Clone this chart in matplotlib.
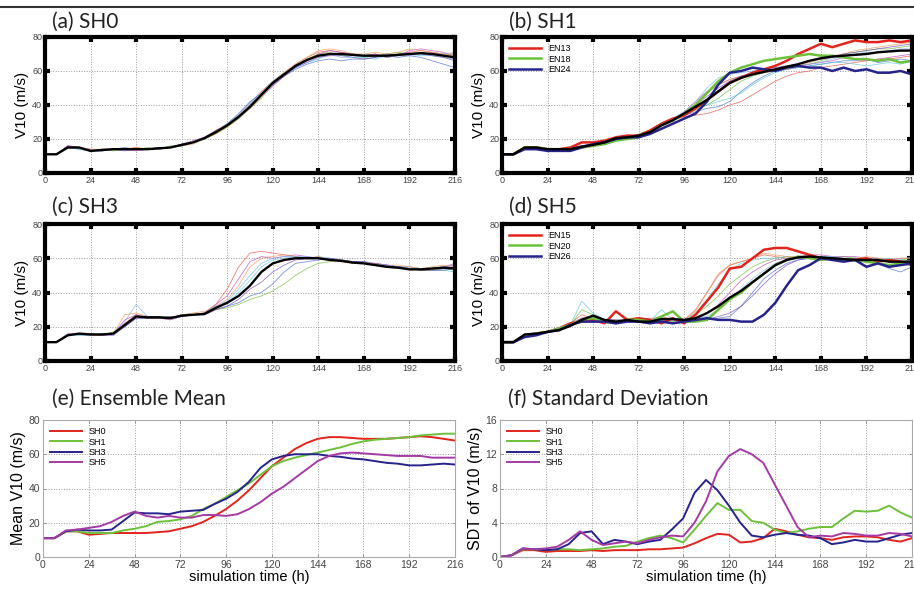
import numpy as np
import matplotlib
matplotlib.use("Agg")
from matplotlib import pyplot as plt
from matplotlib.lines import Line2D

# simulation time, every 6 h
hours = list(range(0, 217, 6))

# ensemble means (black lines in a-d, panel e)
mean_sh0 = [11, 11, 15, 15, 13, 13.5, 14, 14, 14, 14, 14.5, 15, 16.5, 18, 20.5, 24, 28, 33, 39, 46, 53, 58, 63,
            66.5, 69, 70, 70, 69.5, 69, 69, 69, 69.5, 70, 70.5, 70, 69, 68]
mean_sh1 = [11, 11, 15, 15, 14, 14, 14, 15.5, 16.5, 18, 20.5, 21, 22, 24, 28, 31, 35, 39, 43, 48, 53, 56, 58,
            59.5, 61, 62.5, 64, 66, 67.5, 68.5, 69, 69.5, 70, 71, 71.5, 72, 72]
mean_sh3 = [11, 11, 15, 16, 15.5, 15.5, 16, 21, 26, 25.5, 25.5, 25, 26.5, 27, 27.5, 31, 34, 38, 44, 52, 57, 59, 60,
            60, 60, 59, 58.5, 57.5, 57, 56, 55, 54.5, 53.5, 53.5, 54, 54.5, 54]
mean_sh5 = [11, 11, 15.5, 16, 17, 18, 20.5, 24, 26.5, 24, 23, 24, 23, 23, 24.5, 24.5, 24, 25, 28, 32, 37, 41, 46,
            51, 56, 59, 60.5, 61, 60.5, 60, 59.5, 59, 59, 59, 58, 58, 58]

# ensemble standard deviation (panel f)
sdt_sh0 = [0, 0.2, 0.8, 0.8, 0.6, 0.7, 0.7, 0.7, 0.8, 0.7, 0.8, 0.8, 0.8, 0.9, 0.9, 1.0, 1.1, 1.6, 2.2, 2.7, 2.6,
           1.7, 1.8, 2.2, 3.3, 3.0, 2.6, 2.3, 2.2, 2.0, 2.3, 2.4, 2.4, 2.3, 2.0, 1.8, 2.2]
sdt_sh1 = [0, 0.2, 0.9, 0.9, 0.8, 0.9, 0.9, 0.8, 0.9, 1.0, 1.2, 1.3, 1.8, 2.2, 2.5, 2.2, 1.7, 3.2, 4.8, 6.3, 5.5,
           5.5, 4.2, 4.0, 3.2, 2.8, 3.0, 3.3, 3.5, 3.5, 4.5, 5.4, 5.3, 5.4, 6.0, 5.2, 4.6]
sdt_sh3 = [0, 0.2, 1.0, 0.9, 0.8, 0.9, 1.5, 2.8, 3.0, 1.5, 2.0, 1.8, 1.5, 1.8, 2.0, 3.2, 4.5, 7.5, 9.0, 7.8, 6.0,
           4.0, 2.5, 2.3, 2.6, 2.8, 2.6, 2.5, 2.2, 1.5, 1.7, 2.0, 1.8, 1.8, 2.2, 2.6, 2.8]
sdt_sh5 = [0, 0.2, 1.0, 0.9, 1.0, 1.2, 2.0, 3.0, 2.0, 1.4, 1.6, 1.8, 1.6, 2.0, 2.3, 2.5, 2.4, 4.0, 6.5, 10.0, 11.8,
           12.6, 12.0, 11.0, 8.5, 6.0, 3.5, 2.3, 2.5, 2.4, 2.8, 2.7, 2.5, 2.5, 2.8, 2.7, 2.4]

# highlighted members
en13 = [11, 11, 15, 15, 14, 14, 15, 18, 18, 19, 21, 22, 22, 25, 29, 32, 34, 38, 43, 48, 53, 56, 59, 61, 63, 66, 70,
        73, 76, 74, 76, 78, 77, 77, 78, 77, 78]
en18 = [11, 11, 15, 15, 14, 14, 14, 15, 16, 17, 19, 20, 21, 24, 28, 31, 35, 40, 47, 54, 59, 62, 64, 66, 67, 68, 69,
        70, 69, 69, 68, 67, 67, 66, 67, 65, 66]
en24 = [11, 11, 14, 14, 13, 13, 13, 15, 17, 18, 20, 21, 21, 23, 26, 29, 32, 35, 42, 52, 59, 60, 62, 61, 60, 62, 63,
        62, 62, 60, 62, 60, 61, 59, 59, 60, 58]
en15 = [11, 11, 15, 16, 17, 19, 22, 23, 24, 22, 29, 24, 25, 24, 22, 25, 22, 27, 35, 43, 54, 55, 60, 65, 66, 66, 64,
        62, 60, 60, 59, 59, 60, 58, 59, 58, 56]
en20 = [11, 11, 15, 16, 17, 19, 21, 24, 25, 23, 22, 24, 24, 23, 26, 29, 23, 23, 24, 30, 36, 40, 46, 51, 56, 59, 61,
        60, 59, 60, 59, 59, 58, 57, 56, 57, 57]
en26 = [11, 11, 14, 15, 17, 18, 21, 23, 23, 23, 22, 23, 23, 22, 23, 22, 23, 24, 25, 24, 24, 23, 23, 27, 34, 44, 53,
        56, 60, 59, 58, 59, 55, 57, 55, 56, 57]

# other members (thin lines)
members_sh0 = [
    [11, 11, 16, 15, 13, 14, 14, 14, 15, 14, 15, 15, 17, 18, 21, 25, 29, 34, 41, 48, 54, 59, 64, 68, 71, 72, 71, 70, 69, 70, 68, 70, 71, 72, 71, 70, 70],
    [11, 11, 15, 14, 13, 13, 14, 15, 14, 14, 14, 15, 16, 18, 20, 24, 29, 35, 42, 47, 52, 57, 61, 64, 66, 67, 66, 67, 67, 68, 69, 68, 69, 68, 66, 64, 62],
    [11, 11, 15, 15, 13, 14, 13, 14, 14, 15, 14, 16, 16, 18, 20, 23, 27, 32, 38, 44, 52, 58, 63, 67, 70, 71, 69, 70, 68, 69, 70, 71, 70, 71, 70, 69, 70],
    [11, 11, 16, 15, 14, 13, 14, 14, 13, 14, 15, 15, 17, 19, 21, 24, 28, 33, 38, 45, 51, 57, 62, 66, 70, 72, 71, 70, 69, 70, 68, 69, 72, 73, 72, 71, 68],
    [11, 11, 15, 14, 13, 14, 14, 14, 14, 14, 15, 15, 16, 18, 20, 24, 29, 34, 41, 47, 54, 59, 62, 65, 67, 70, 70, 68, 68, 67, 69, 70, 70, 69, 69, 68, 67],
    [11, 11, 15, 15, 14, 14, 14, 14, 15, 14, 14, 15, 16, 17, 20, 23, 27, 32, 38, 45, 53, 59, 64, 68, 72, 73, 72, 70, 70, 71, 70, 71, 73, 72, 71, 70, 69],
    [11, 11, 16, 15, 13, 14, 14, 13, 14, 14, 15, 15, 17, 18, 21, 25, 28, 33, 39, 46, 52, 57, 62, 65, 68, 69, 69, 68, 67, 68, 70, 69, 70, 70, 69, 68, 66],
    [11, 11, 15, 15, 13, 13, 14, 14, 14, 14, 14, 15, 16, 18, 20, 24, 28, 32, 40, 47, 53, 58, 62, 66, 69, 70, 68, 68, 69, 69, 68, 69, 69, 70, 70, 70, 71],
]
members_sh1 = [
    [11, 11, 15, 15, 14, 14, 14, 16, 17, 18, 20, 21, 22, 25, 28, 31, 33, 34, 35, 37, 40, 42, 46, 50, 54, 57, 59, 60, 62, 63, 64, 65, 66, 67, 67, 68, 69],
    [11, 11, 15, 15, 14, 14, 14, 16, 17, 18, 20, 21, 22, 25, 28, 31, 34, 36, 38, 39, 42, 48, 53, 57, 60, 61, 62, 63, 64, 65, 66, 66, 67, 65, 66, 67, 66],
    [11, 11, 15, 15, 14, 14, 15, 16, 17, 18, 20, 21, 23, 25, 28, 31, 34, 37, 40, 44, 49, 54, 57, 59, 60, 61, 63, 64, 66, 68, 70, 71, 72, 73, 73, 74, 75],
    [11, 11, 15, 15, 14, 14, 15, 16, 17, 18, 20, 21, 22, 25, 28, 32, 36, 42, 48, 52, 55, 57, 58, 60, 61, 62, 63, 64, 65, 66, 68, 67, 66, 67, 68, 69, 70],
    [11, 11, 15, 15, 14, 14, 14, 15, 17, 18, 20, 21, 22, 25, 29, 32, 35, 38, 40, 42, 44, 47, 52, 56, 59, 61, 62, 63, 64, 65, 65, 64, 63, 64, 65, 64, 66],
    [11, 11, 15, 15, 14, 14, 14, 15, 17, 18, 20, 21, 22, 25, 28, 31, 35, 41, 47, 52, 55, 57, 58, 59, 60, 61, 63, 65, 67, 69, 70, 72, 73, 74, 75, 76, 77],
    [11, 11, 15, 15, 14, 14, 14, 16, 17, 18, 20, 21, 22, 25, 28, 31, 35, 40, 45, 50, 54, 57, 59, 61, 62, 63, 64, 66, 67, 68, 70, 71, 72, 73, 74, 75, 76],
    [11, 11, 15, 15, 14, 14, 15, 16, 17, 18, 20, 21, 22, 25, 28, 32, 36, 42, 50, 56, 58, 59, 60, 61, 62, 62, 63, 64, 65, 67, 69, 70, 71, 71, 72, 73, 73],
]
members_sh3 = [
    [11, 11, 15, 16, 15, 15, 16, 22, 27, 25, 25, 25, 26, 27, 28, 33, 42, 55, 63, 64, 63, 62, 61, 60, 60, 59, 58, 57, 57, 56, 55, 54, 54, 53, 53, 54, 55],
    [11, 11, 15, 16, 15, 15, 16, 20, 25, 25, 26, 25, 26, 27, 27, 30, 32, 34, 38, 40, 45, 52, 57, 58, 59, 60, 59, 58, 58, 56, 56, 55, 55, 54, 54, 55, 56],
    [11, 11, 15, 16, 16, 15, 17, 21, 26, 25, 26, 26, 26, 27, 27, 30, 31, 33, 36, 38, 41, 45, 50, 54, 57, 58, 59, 58, 57, 57, 55, 55, 54, 53, 53, 54, 53],
    [11, 11, 16, 16, 15, 15, 16, 24, 27, 25, 25, 24, 26, 27, 28, 33, 38, 48, 58, 61, 60, 61, 62, 61, 60, 59, 58, 58, 57, 57, 56, 55, 54, 54, 54, 55, 57],
    [11, 11, 15, 15, 15, 16, 16, 21, 26, 26, 25, 25, 27, 27, 28, 31, 34, 40, 47, 55, 59, 60, 61, 60, 61, 60, 59, 58, 57, 56, 55, 55, 54, 54, 53, 53, 52],
    [11, 11, 15, 16, 15, 15, 16, 27, 28, 26, 26, 25, 27, 28, 29, 32, 36, 44, 55, 60, 61, 62, 61, 60, 61, 59, 59, 58, 57, 57, 56, 56, 55, 54, 55, 56, 55],
    [11, 11, 15, 16, 16, 15, 15, 20, 25, 25, 25, 26, 26, 27, 27, 30, 32, 36, 42, 46, 52, 56, 59, 60, 60, 60, 59, 58, 58, 57, 56, 55, 54, 53, 53, 53, 54],
    [11, 11, 16, 15, 15, 16, 16, 23, 33, 26, 26, 25, 26, 27, 28, 32, 35, 42, 50, 57, 60, 61, 61, 61, 60, 59, 59, 58, 57, 56, 56, 55, 54, 54, 54, 53, 55],
]
members_sh5 = [
    [11, 11, 15, 16, 17, 19, 22, 27, 25, 23, 23, 24, 23, 24, 26, 24, 24, 30, 40, 50, 56, 58, 60, 62, 61, 60, 61, 60, 60, 59, 60, 60, 59, 59, 58, 58, 59],
    [11, 11, 15, 16, 17, 19, 21, 24, 26, 23, 23, 23, 24, 24, 24, 24, 23, 23, 24, 25, 26, 32, 40, 48, 53, 57, 59, 60, 61, 60, 59, 59, 58, 57, 54, 52, 55],
    [11, 11, 15, 16, 17, 19, 21, 30, 27, 24, 23, 24, 24, 23, 24, 23, 24, 27, 32, 38, 45, 50, 55, 58, 60, 61, 60, 61, 61, 60, 61, 60, 59, 59, 58, 59, 60],
    [11, 11, 15, 16, 17, 19, 22, 25, 26, 24, 24, 23, 24, 25, 25, 24, 24, 25, 28, 33, 40, 47, 52, 56, 59, 60, 61, 62, 62, 61, 61, 61, 60, 60, 59, 60, 60],
    [11, 11, 15, 16, 17, 19, 21, 35, 28, 24, 23, 24, 24, 23, 30, 24, 24, 28, 36, 45, 53, 57, 59, 60, 60, 61, 60, 60, 61, 61, 60, 60, 60, 60, 60, 59, 61],
    [11, 11, 15, 16, 17, 19, 21, 25, 25, 23, 24, 24, 25, 24, 25, 25, 24, 29, 40, 51, 56, 58, 60, 63, 62, 61, 61, 61, 60, 60, 59, 60, 61, 60, 59, 60, 60],
    [11, 11, 15, 16, 17, 19, 21, 25, 26, 24, 24, 23, 24, 24, 24, 24, 24, 24, 24, 26, 28, 32, 38, 45, 51, 56, 59, 60, 60, 60, 59, 60, 59, 59, 58, 58, 58],
    [11, 11, 15, 16, 17, 19, 21, 24, 25, 23, 24, 24, 25, 24, 24, 24, 24, 25, 26, 30, 36, 42, 48, 53, 57, 59, 60, 61, 61, 60, 60, 59, 59, 58, 59, 58, 59],
]

xticks = list(range(0, 217, 24))

RED = '#e3241d'
GREEN = '#6cc13b'
BLUE = '#27238c'
MAGENTA = '#a53aa6'
thin_colors = ['#e8544a', '#4a6fd6', '#6cc13b', '#c24bc2', '#5bc8d8', '#ee9a55', '#7a4cc4', '#7fb4ea']

plt.rcParams['font.family'] = ['Liberation Sans', 'DejaVu Sans']

fig = plt.figure(figsize=(9.14, 5.89), dpi=100)
W, H = 914., 589.


def axbox(l, t, r, b):
    return fig.add_axes([l / W, 1 - b / H, (r - l) / W, (b - t) / H])


def style(ax, ylim, yticks, heavy):
    ax.set_xlim(0, 216)
    ax.set_ylim(*ylim)
    ax.set_xticks(xticks)
    ax.set_yticks(yticks)
    ax.grid(True, linestyle=':', color='#9a9a9a', linewidth=0.7)
    if heavy:
        for s in ax.spines.values():
            s.set_linewidth(3)
            s.set_color('black')
        ax.tick_params(direction='in', top=True, right=True, length=3.5, width=3, color='black',
                       labelsize=6.5, labelcolor='#444', pad=2)
    else:
        for s in ax.spines.values():
            s.set_linewidth(0.8)
            s.set_color('#aaaaaa')
        ax.tick_params(direction='in', top=True, right=True, length=2.5, width=0.6, color='#888',
                       labelsize=7.5, labelcolor='#444', pad=2)


title_kw = dict(fontsize=15, family=['Lato', 'DejaVu Sans'], color='#222', va='baseline')

panels = [
    ("(a) SH0", (45, 37, 455, 173), (52, 28), mean_sh0, members_sh0, None),
    ("(b) SH1", (502, 37, 912, 173), (509, 28), mean_sh1, members_sh1,
     [("EN13", en13, RED), ("EN18", en18, GREEN), ("EN24", en24, BLUE)]),
    ("(c) SH3", (45, 224, 455, 361), (52, 213), mean_sh3, members_sh3, None),
    ("(d) SH5", (502, 224, 912, 361), (509, 213), mean_sh5, members_sh5,
     [("EN15", en15, RED), ("EN20", en20, GREEN), ("EN26", en26, BLUE)]),
]

for title, box, tpos, mean, members, highlight in panels:
    ax = axbox(*box)
    for i, m in enumerate(members):
        ax.plot(hours, m, color=thin_colors[i % len(thin_colors)], linewidth=0.6, alpha=0.75)
    handles = []
    if highlight:
        for name, vals, c in highlight:
            h, = ax.plot(hours, vals, color=c, linewidth=1.8, label=name)
            handles.append(h)
    ax.plot(hours, mean, color='black', linewidth=1.7)
    style(ax, (0, 80), [0, 20, 40, 60, 80], True)
    ax.set_ylabel("V10 (m/s)", fontsize=11, labelpad=2)
    if handles:
        ax.legend(handles=handles, loc='upper left', frameon=False, fontsize=6.5,
                  handlelength=3.5, labelspacing=0.15, borderaxespad=0.4)
    fig.text(tpos[0] / W, 1 - tpos[1] / H, title, **title_kw)

# (e) ensemble mean
ax = axbox(43, 420, 455, 557)
ax.plot(hours, mean_sh0, color=RED, linewidth=1.4, label="SH0")
ax.plot(hours, mean_sh1, color=GREEN, linewidth=1.4, label="SH1")
ax.plot(hours, mean_sh3, color=BLUE, linewidth=1.4, label="SH3")
ax.plot(hours, mean_sh5, color=MAGENTA, linewidth=1.4, label="SH5")
style(ax, (0, 80), [0, 20, 40, 60, 80], False)
ax.set_ylabel("Mean V10 (m/s)", fontsize=11.5, labelpad=2)
ax.set_xlabel("simulation time (h)", fontsize=10.5, labelpad=0)
ax.legend(loc='upper left', frameon=False, fontsize=6.5, handlelength=3.5, labelspacing=0.15,
          borderaxespad=0.4)
fig.text(52 / W, 1 - 405 / H, "(e) Ensemble Mean", **title_kw)

# (f) standard deviation
ax = axbox(500, 420, 912, 557)
ax.plot(hours, sdt_sh0, color=RED, linewidth=1.4, label="SH0")
ax.plot(hours, sdt_sh1, color=GREEN, linewidth=1.4, label="SH1")
ax.plot(hours, sdt_sh3, color=BLUE, linewidth=1.4, label="SH3")
ax.plot(hours, sdt_sh5, color=MAGENTA, linewidth=1.4, label="SH5")
style(ax, (0, 16), [0, 4, 8, 12, 16], False)
ax.set_ylabel("SDT of V10 (m/s)", fontsize=11.5, labelpad=2)
ax.set_xlabel("simulation time (h)", fontsize=10.5, labelpad=0)
ax.legend(loc='upper left', frameon=False, fontsize=6.5, handlelength=3.5, labelspacing=0.15,
          borderaxespad=0.4)
fig.text(508 / W, 1 - 405 / H, "(f) Standard Deviation", **title_kw)

# rule across the top
fig.add_artist(Line2D([0, 1], [1 - 6.5 / H] * 2, color='#333333', linewidth=1.5))

fig.savefig("out.png", dpi=100)
